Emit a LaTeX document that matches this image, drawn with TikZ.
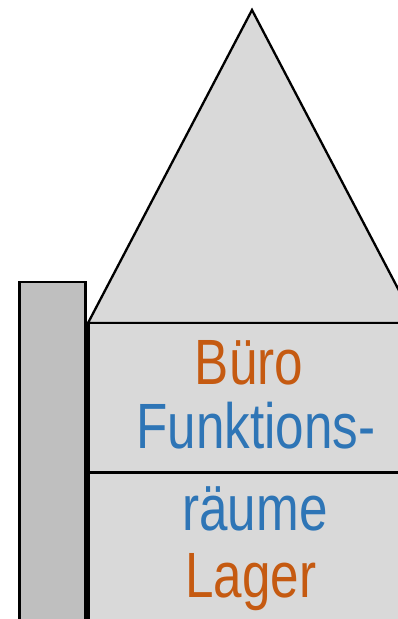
\documentclass[tikz,border=0pt]{standalone}
\usepackage{fontspec}
\setmainfont{Liberation Sans}
\definecolor{wallgray}{HTML}{D9D9D9}
\definecolor{pillargray}{HTML}{BFBFBF}
\definecolor{labelorange}{HTML}{C55A11}
\definecolor{labelblue}{HTML}{2E75B6}
\begin{document}
\begin{tikzpicture}[x=1pt,y=-1pt,
  outline/.style={draw=black,line width=2.6pt,line join=miter},
  roomlabel/.style={anchor=base,inner sep=0pt,xscale=0.8,
    font=\fontsize{64}{64}\selectfont}]
\useasboundingbox (0,0) rectangle (398,619);
\clip (0,0) rectangle (398,619);
% side pillar
\path[outline,fill=pillargray] (19.5,282) rectangle (85.5,640);
% roof
\path[outline,line width=2.3pt,fill=wallgray] (88,323) -- (252,10) -- (416,323) -- cycle;
% building body with floor divider
\path[outline,fill=wallgray] (88.5,323) rectangle (430,640);
\draw[line width=2.6pt] (88.5,472.5) -- (430,472.5);
% floor labels
\node[roomlabel,text=labelorange] (buero) at (249,384) {Büro};
\node[roomlabel,text=labelblue] (funktion) at (256,448) {Funktions-};
\node[roomlabel,text=labelblue] (raeume) at (255,530) {räume};
\node[roomlabel,text=labelorange] (lager) at (251,597) {Lager};
\end{tikzpicture}
\end{document}
